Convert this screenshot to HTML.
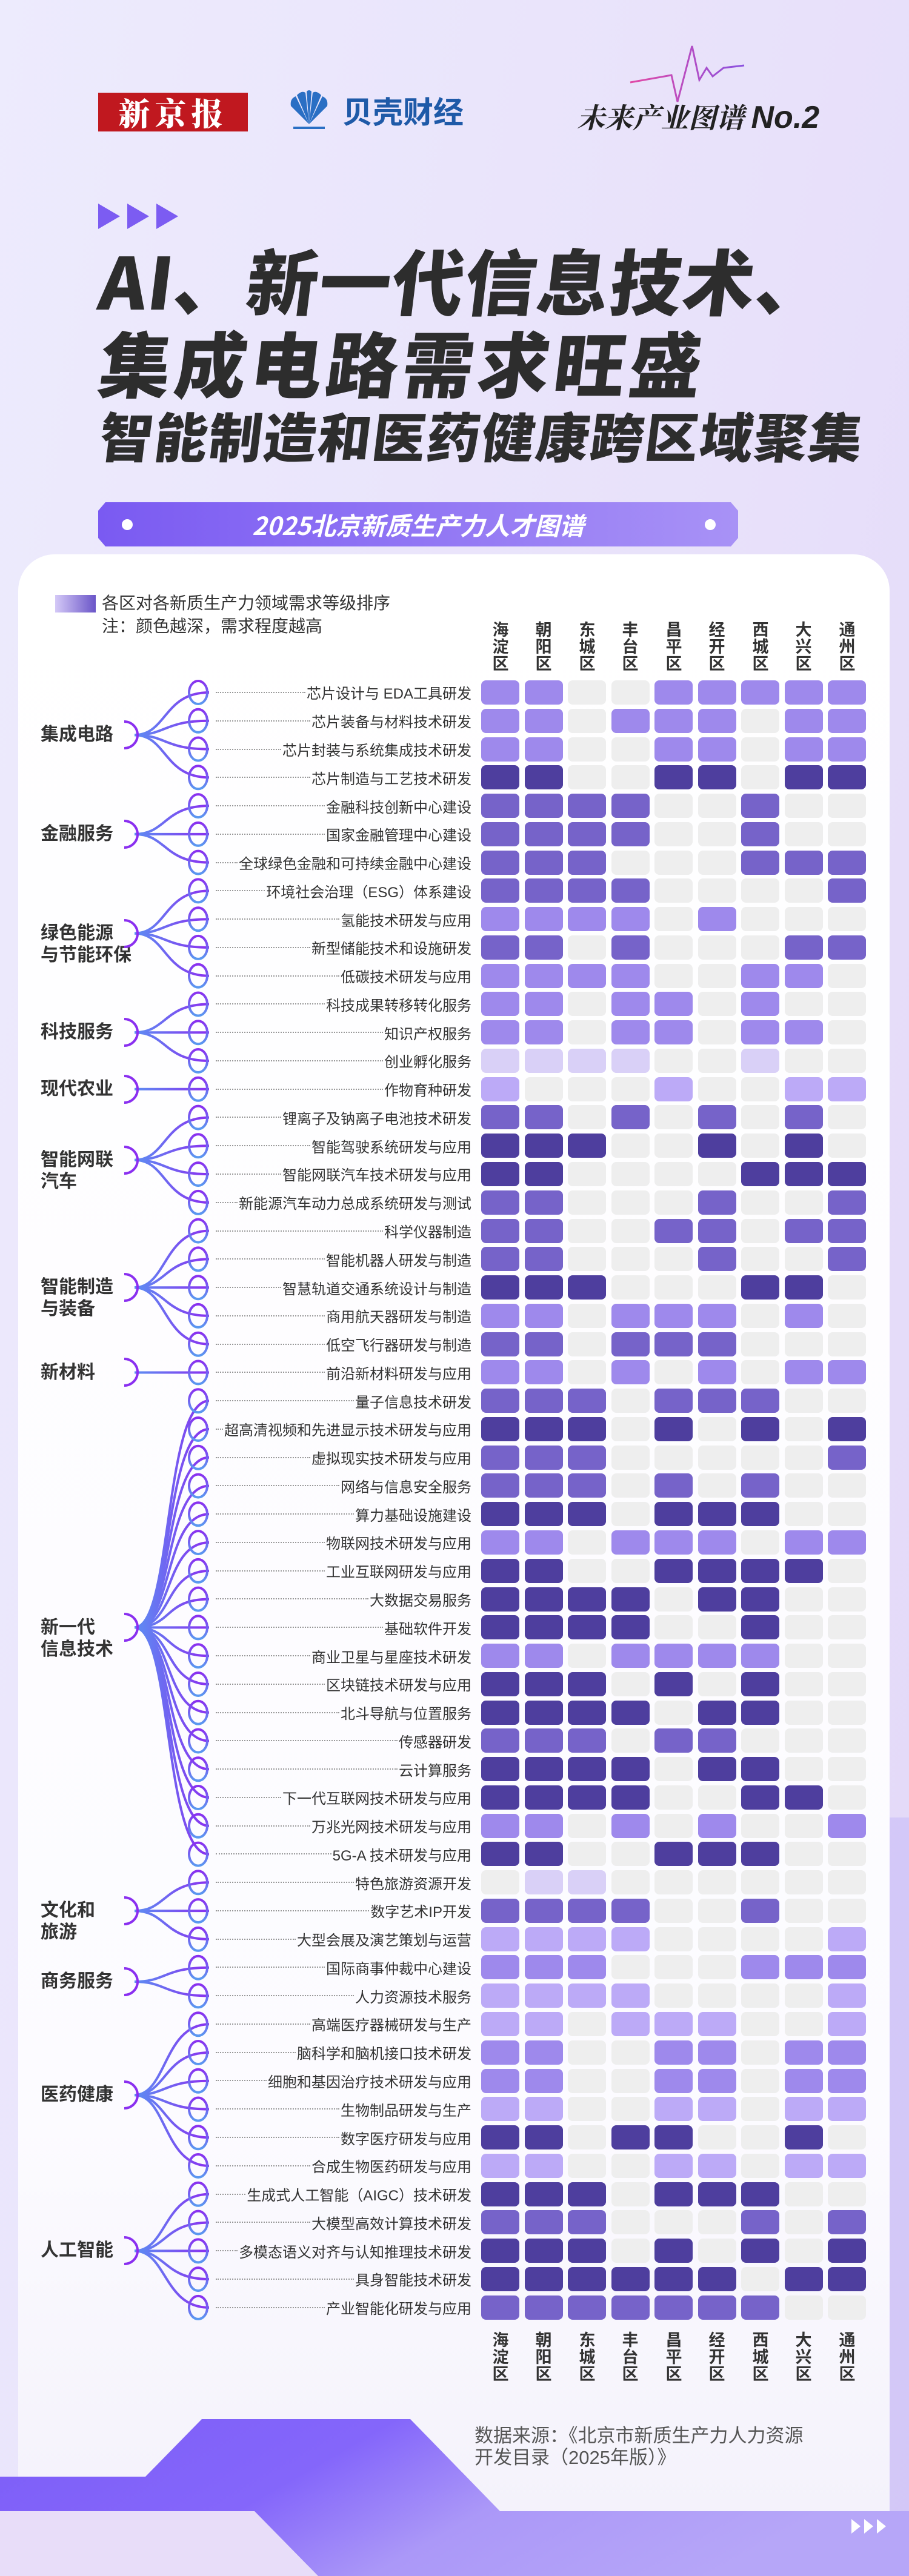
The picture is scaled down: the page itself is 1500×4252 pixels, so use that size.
<!DOCTYPE html>
<html><head><meta charset="utf-8">
<style>
*{margin:0;padding:0;box-sizing:border-box}
body{width:1500px;height:4252px;position:relative;overflow:hidden;font-family:"Liberation Sans","Noto Sans CJK SC",sans-serif;background:linear-gradient(100deg,#edebfd 0%,#e8e1fa 60%,#e3d8f8 100%)}
.a{position:absolute}
.card{left:30px;top:915px;width:1438px;height:3240px;background:linear-gradient(180deg,#ffffff 0%,#fcfbff 80%,#f4f2fb 100%);border-radius:60px 60px 0 0}
.t{color:#2d2d2d;font-family:"Noto Sans CJK SC",sans-serif;font-weight:900;white-space:nowrap;transform:skewX(-7deg);transform-origin:0 100%}
.grid{left:794px;top:1123px;display:grid;grid-template-columns:repeat(9,63px);column-gap:8.5px;grid-auto-rows:40px;row-gap:6.77px}
.grid i{display:block;border-radius:8px}
.z{background:#eeeeee}.A{background:#d9d0f7}.b{background:#bcaaf7}.c{background:#9e89ec}.d{background:#7663c9}.e{background:#4e3e9e}
.labs{left:356px;top:1119.6px;width:422px}
.labs div{height:46.77px;display:flex;align-items:center;font-size:24px;color:#333;white-space:nowrap;font-family:"Liberation Sans","Noto Sans CJK SC",sans-serif}
.labs div b{flex:1;height:0;border-top:2px dotted #999;margin-right:2px}
.cat{left:67px;font-size:30px;font-weight:bold;color:#333;line-height:36px;white-space:nowrap}
.dist{font-size:27px;font-weight:bold;color:#333;line-height:28px;width:30px;text-align:center}
</style></head><body>

<!-- header -->
<div class="a" style="left:162px;top:153px;width:247px;height:64px;background:#c0181f;color:#fff;font-family:'Noto Serif CJK SC',serif;font-weight:900;font-size:52px;line-height:64px;text-align:center;letter-spacing:8px">新京报</div>
<svg class="a" style="left:470px;top:145px" width="80" height="75" viewBox="0 0 80 75">
<g fill="#2a6fc4"><path d="M40 60 L10 30 Q8 18 18 14 Z"/><path d="M40 60 L20 12 Q28 4 34 8 Z"/><path d="M40 60 L36 6 Q40 2 44 6 Z"/><path d="M40 60 L46 8 Q52 4 60 12 Z"/><path d="M40 60 L62 14 Q72 18 70 30 Z"/></g>
<rect x="14" y="64" width="52" height="4" fill="#2a6fc4"/></svg>
<div class="a" style="left:565px;top:152px;font-size:50px;font-weight:bold;color:#1f5aa8;font-family:'Noto Sans CJK SC',sans-serif;line-height:60px">贝壳财经</div>
<svg class="a" style="left:0;top:0" width="1500" height="260">
<defs><linearGradient id="hb" x1="0" x2="1"><stop offset="0" stop-color="#e24aa6"/><stop offset="1" stop-color="#8a52e0"/></linearGradient></defs>
<polyline points="1040,136 1108,124 1118,168 1142,76 1154,132 1166,112 1176,126 1194,112 1228,108" fill="none" stroke="url(#hb)" stroke-width="3"/></svg>
<div class="a" style="left:952px;top:160px;font-size:46px;font-style:italic;color:#222;font-family:'Noto Serif CJK SC',serif;font-weight:bold;line-height:64px">未来产业图谱 <span style="font-family:'Liberation Sans',sans-serif;font-weight:bold;font-size:52px">No.2</span></div>

<svg class="a" style="left:162px;top:336px" width="132" height="42"><g fill="#7c5cf2"><polygon points="0,0 36,21 0,42"/><polygon points="48,0 84,21 48,42"/><polygon points="96,0 132,21 96,42"/></g></svg>

<div class="a t" style="left:158px;top:400px;font-size:118px;line-height:120px;letter-spacing:2px">AI、新一代信息技术、</div>
<div class="a t" style="left:158px;top:536px;font-size:118px;line-height:120px;letter-spacing:7px">集成电路需求旺盛</div>
<div class="a t" style="left:160px;top:673px;font-size:88px;line-height:90px;letter-spacing:2px">智能制造和医药健康跨区域聚集</div>

<svg class="a" style="left:162px;top:829px" width="1056" height="73">
<defs><linearGradient id="bn" x1="0" x2="1"><stop offset="0" stop-color="#7a5af2"/><stop offset="1" stop-color="#a892f6"/></linearGradient></defs>
<polygon points="12,0 1044,0 1056,14 1056,59 1044,73 12,73 0,59 0,14" fill="url(#bn)"/>
<circle cx="48" cy="37" r="9" fill="#fff"/><circle cx="1010" cy="37" r="9" fill="#fff"/></svg>
<div class="a" style="left:162px;top:838px;width:1056px;text-align:center;color:#fff;font-size:41px;font-weight:bold;font-style:italic;line-height:54px;font-family:'Noto Sans CJK SC',sans-serif">2025北京新质生产力人才图谱</div>

<div class="a card"></div>

<!-- legend -->
<div class="a" style="left:91px;top:982px;width:67px;height:29px;background:linear-gradient(90deg,#d4c9f7,#6a55c8)"></div>
<div class="a" style="left:168px;top:978px;font-size:28px;color:#333;line-height:36px">各区对各新质生产力领域需求等级排序</div>
<div class="a" style="left:168px;top:1016px;font-size:28px;color:#333;line-height:36px">注：颜色越深，需求程度越高</div>

<!-- district labels top -->
<div class="a dist" style="left:811px;top:1026px">海<br>淀<br>区</div>
<div class="a dist" style="left:882px;top:1026px">朝<br>阳<br>区</div>
<div class="a dist" style="left:954px;top:1026px">东<br>城<br>区</div>
<div class="a dist" style="left:1025px;top:1026px">丰<br>台<br>区</div>
<div class="a dist" style="left:1097px;top:1026px">昌<br>平<br>区</div>
<div class="a dist" style="left:1168px;top:1026px">经<br>开<br>区</div>
<div class="a dist" style="left:1240px;top:1026px">西<br>城<br>区</div>
<div class="a dist" style="left:1311px;top:1026px">大<br>兴<br>区</div>
<div class="a dist" style="left:1383px;top:1026px">通<br>州<br>区</div>
<!-- bottom -->
<div class="a dist" style="left:811px;top:3849px">海<br>淀<br>区</div>
<div class="a dist" style="left:882px;top:3849px">朝<br>阳<br>区</div>
<div class="a dist" style="left:954px;top:3849px">东<br>城<br>区</div>
<div class="a dist" style="left:1025px;top:3849px">丰<br>台<br>区</div>
<div class="a dist" style="left:1097px;top:3849px">昌<br>平<br>区</div>
<div class="a dist" style="left:1168px;top:3849px">经<br>开<br>区</div>
<div class="a dist" style="left:1240px;top:3849px">西<br>城<br>区</div>
<div class="a dist" style="left:1311px;top:3849px">大<br>兴<br>区</div>
<div class="a dist" style="left:1383px;top:3849px">通<br>州<br>区</div>

<!-- categories -->
<div class="a cat" style="top:1195px">集成电路</div>
<div class="a cat" style="top:1359px">金融服务</div>
<div class="a cat" style="top:1523px">绿色能源<br>与节能环保</div>
<div class="a cat" style="top:1686px">科技服务</div>
<div class="a cat" style="top:1780px">现代农业</div>
<div class="a cat" style="top:1897px">智能网联<br>汽车</div>
<div class="a cat" style="top:2107px">智能制造<br>与装备</div>
<div class="a cat" style="top:2248px">新材料</div>
<div class="a cat" style="top:2669px">新一代<br>信息技术</div>
<div class="a cat" style="top:3136px">文化和<br>旅游</div>
<div class="a cat" style="top:3253px">商务服务</div>
<div class="a cat" style="top:3440px">医药健康</div>
<div class="a cat" style="top:3697px">人工智能</div>

<!-- tree -->
<svg class="a" style="left:0;top:0" width="1500" height="4252">
<defs>
<linearGradient id="cg" gradientUnits="userSpaceOnUse" x1="222" y1="0" x2="345" y2="0"><stop offset="0" stop-color="#5c8ef2"/><stop offset="1" stop-color="#8a2ff0"/></linearGradient>
<linearGradient id="eg" x1="0" y1="0" x2="0" y2="1"><stop offset="0" stop-color="#8a2ff0"/><stop offset="1" stop-color="#5a9af0"/></linearGradient>
</defs>
<g fill="none" stroke="url(#cg)" stroke-width="4">
<path d="M222 1213.2C275 1213.2 270 1143 345 1143"/><path d="M222 1213.2C275 1213.2 270 1189.8 345 1189.8"/><path d="M222 1213.2C275 1213.2 270 1236.5 345 1236.5"/><path d="M222 1213.2C275 1213.2 270 1283.3 345 1283.3"/>
<path d="M222 1376.9C275 1376.9 270 1330.1 345 1330.1"/><path d="M222 1376.9L345 1376.9"/><path d="M222 1376.9C275 1376.9 270 1423.6 345 1423.6"/>
<path d="M222 1540.6C275 1540.6 270 1470.4 345 1470.4"/><path d="M222 1540.6C275 1540.6 270 1517.2 345 1517.2"/><path d="M222 1540.6C275 1540.6 270 1563.9 345 1563.9"/><path d="M222 1540.6C275 1540.6 270 1610.7 345 1610.7"/>
<path d="M222 1704.2C275 1704.2 270 1657.5 345 1657.5"/><path d="M222 1704.2L345 1704.2"/><path d="M222 1704.2C275 1704.2 270 1751 345 1751"/>
<path d="M222 1797.8L345 1797.8"/>
<path d="M222 1914.7C275 1914.7 270 1844.6 345 1844.6"/><path d="M222 1914.7C275 1914.7 270 1891.3 345 1891.3"/><path d="M222 1914.7C275 1914.7 270 1938.1 345 1938.1"/><path d="M222 1914.7C275 1914.7 270 1984.9 345 1984.9"/>
<path d="M222 2125.2C275 2125.2 270 2031.6 345 2031.6"/><path d="M222 2125.2C275 2125.2 270 2078.4 345 2078.4"/><path d="M222 2125.2L345 2125.2"/><path d="M222 2125.2C275 2125.2 270 2171.9 345 2171.9"/><path d="M222 2125.2C275 2125.2 270 2218.7 345 2218.7"/>
<path d="M222 2265.5L345 2265.5"/>
<path d="M222 2686.4C285 2686.4 270 2312.3 345 2312.3"/><path d="M222 2686.4C285 2686.4 270 2359 345 2359"/><path d="M222 2686.4C285 2686.4 270 2405.8 345 2405.8"/><path d="M222 2686.4C285 2686.4 270 2452.6 345 2452.6"/><path d="M222 2686.4C285 2686.4 270 2499.3 345 2499.3"/><path d="M222 2686.4C285 2686.4 270 2546.1 345 2546.1"/><path d="M222 2686.4C285 2686.4 270 2592.9 345 2592.9"/><path d="M222 2686.4C285 2686.4 270 2639.6 345 2639.6"/><path d="M222 2686.4L345 2686.4"/><path d="M222 2686.4C285 2686.4 270 2733.2 345 2733.2"/><path d="M222 2686.4C285 2686.4 270 2780 345 2780"/><path d="M222 2686.4C285 2686.4 270 2826.7 345 2826.7"/><path d="M222 2686.4C285 2686.4 270 2873.5 345 2873.5"/><path d="M222 2686.4C285 2686.4 270 2920.3 345 2920.3"/><path d="M222 2686.4C285 2686.4 270 2967 345 2967"/><path d="M222 2686.4C285 2686.4 270 3013.8 345 3013.8"/><path d="M222 2686.4C285 2686.4 270 3060.6 345 3060.6"/>
<path d="M222 3154.1C275 3154.1 270 3107.3 345 3107.3"/><path d="M222 3154.1L345 3154.1"/><path d="M222 3154.1C275 3154.1 270 3200.9 345 3200.9"/>
<path d="M222 3271C275 3271 270 3247.7 345 3247.7"/><path d="M222 3271C275 3271 270 3294.4 345 3294.4"/>
<path d="M222 3458.1C275 3458.1 270 3341.2 345 3341.2"/><path d="M222 3458.1C275 3458.1 270 3388 345 3388"/><path d="M222 3458.1C275 3458.1 270 3434.7 345 3434.7"/><path d="M222 3458.1C275 3458.1 270 3481.5 345 3481.5"/><path d="M222 3458.1C275 3458.1 270 3528.3 345 3528.3"/><path d="M222 3458.1C275 3458.1 270 3575 345 3575"/>
<path d="M222 3715.4C275 3715.4 270 3621.8 345 3621.8"/><path d="M222 3715.4C275 3715.4 270 3668.6 345 3668.6"/><path d="M222 3715.4L345 3715.4"/><path d="M222 3715.4C275 3715.4 270 3762.1 345 3762.1"/><path d="M222 3715.4C275 3715.4 270 3808.9 345 3808.9"/>
</g>
<g fill="none" stroke="#8a2ff0" stroke-width="4">
<path d="M205 1191a22 22 0 0 1 0 44"/><path d="M205 1355a22 22 0 0 1 0 44"/><path d="M205 1519a22 22 0 0 1 0 44"/><path d="M205 1682a22 22 0 0 1 0 44"/><path d="M205 1776a22 22 0 0 1 0 44"/><path d="M205 1893a22 22 0 0 1 0 44"/><path d="M205 2103a22 22 0 0 1 0 44"/><path d="M205 2243a22 22 0 0 1 0 44"/><path d="M205 2664a22 22 0 0 1 0 44"/><path d="M205 3132a22 22 0 0 1 0 44"/><path d="M205 3249a22 22 0 0 1 0 44"/><path d="M205 3436a22 22 0 0 1 0 44"/><path d="M205 3693a22 22 0 0 1 0 44"/>
</g>
<g fill="none" stroke="url(#eg)" stroke-width="4">
<ellipse cx="327" cy="1143" rx="15" ry="19"/><ellipse cx="327" cy="1189.8" rx="15" ry="19"/><ellipse cx="327" cy="1236.5" rx="15" ry="19"/><ellipse cx="327" cy="1283.3" rx="15" ry="19"/><ellipse cx="327" cy="1330.1" rx="15" ry="19"/><ellipse cx="327" cy="1376.9" rx="15" ry="19"/><ellipse cx="327" cy="1423.6" rx="15" ry="19"/><ellipse cx="327" cy="1470.4" rx="15" ry="19"/><ellipse cx="327" cy="1517.2" rx="15" ry="19"/><ellipse cx="327" cy="1563.9" rx="15" ry="19"/><ellipse cx="327" cy="1610.7" rx="15" ry="19"/><ellipse cx="327" cy="1657.5" rx="15" ry="19"/><ellipse cx="327" cy="1704.2" rx="15" ry="19"/><ellipse cx="327" cy="1751" rx="15" ry="19"/><ellipse cx="327" cy="1797.8" rx="15" ry="19"/><ellipse cx="327" cy="1844.6" rx="15" ry="19"/><ellipse cx="327" cy="1891.3" rx="15" ry="19"/><ellipse cx="327" cy="1938.1" rx="15" ry="19"/><ellipse cx="327" cy="1984.9" rx="15" ry="19"/><ellipse cx="327" cy="2031.6" rx="15" ry="19"/><ellipse cx="327" cy="2078.4" rx="15" ry="19"/><ellipse cx="327" cy="2125.2" rx="15" ry="19"/><ellipse cx="327" cy="2171.9" rx="15" ry="19"/><ellipse cx="327" cy="2218.7" rx="15" ry="19"/><ellipse cx="327" cy="2265.5" rx="15" ry="19"/><ellipse cx="327" cy="2312.3" rx="15" ry="19"/><ellipse cx="327" cy="2359" rx="15" ry="19"/><ellipse cx="327" cy="2405.8" rx="15" ry="19"/><ellipse cx="327" cy="2452.6" rx="15" ry="19"/><ellipse cx="327" cy="2499.3" rx="15" ry="19"/><ellipse cx="327" cy="2546.1" rx="15" ry="19"/><ellipse cx="327" cy="2592.9" rx="15" ry="19"/><ellipse cx="327" cy="2639.6" rx="15" ry="19"/><ellipse cx="327" cy="2686.4" rx="15" ry="19"/><ellipse cx="327" cy="2733.2" rx="15" ry="19"/><ellipse cx="327" cy="2780" rx="15" ry="19"/><ellipse cx="327" cy="2826.7" rx="15" ry="19"/><ellipse cx="327" cy="2873.5" rx="15" ry="19"/><ellipse cx="327" cy="2920.3" rx="15" ry="19"/><ellipse cx="327" cy="2967" rx="15" ry="19"/><ellipse cx="327" cy="3013.8" rx="15" ry="19"/><ellipse cx="327" cy="3060.6" rx="15" ry="19"/><ellipse cx="327" cy="3107.3" rx="15" ry="19"/><ellipse cx="327" cy="3154.1" rx="15" ry="19"/><ellipse cx="327" cy="3200.9" rx="15" ry="19"/><ellipse cx="327" cy="3247.7" rx="15" ry="19"/><ellipse cx="327" cy="3294.4" rx="15" ry="19"/><ellipse cx="327" cy="3341.2" rx="15" ry="19"/><ellipse cx="327" cy="3388" rx="15" ry="19"/><ellipse cx="327" cy="3434.7" rx="15" ry="19"/><ellipse cx="327" cy="3481.5" rx="15" ry="19"/><ellipse cx="327" cy="3528.3" rx="15" ry="19"/><ellipse cx="327" cy="3575" rx="15" ry="19"/><ellipse cx="327" cy="3621.8" rx="15" ry="19"/><ellipse cx="327" cy="3668.6" rx="15" ry="19"/><ellipse cx="327" cy="3715.4" rx="15" ry="19"/><ellipse cx="327" cy="3762.1" rx="15" ry="19"/><ellipse cx="327" cy="3808.9" rx="15" ry="19"/>
</g>
</svg>

<div class="a labs">
<div><b></b>芯片设计与 EDA工具研发</div>
<div><b></b>芯片装备与材料技术研发</div>
<div><b></b>芯片封装与系统集成技术研发</div>
<div><b></b>芯片制造与工艺技术研发</div>
<div><b></b>金融科技创新中心建设</div>
<div><b></b>国家金融管理中心建设</div>
<div><b></b>全球绿色金融和可持续金融中心建设</div>
<div><b></b>环境社会治理（ESG）体系建设</div>
<div><b></b>氢能技术研发与应用</div>
<div><b></b>新型储能技术和设施研发</div>
<div><b></b>低碳技术研发与应用</div>
<div><b></b>科技成果转移转化服务</div>
<div><b></b>知识产权服务</div>
<div><b></b>创业孵化服务</div>
<div><b></b>作物育种研发</div>
<div><b></b>锂离子及钠离子电池技术研发</div>
<div><b></b>智能驾驶系统研发与应用</div>
<div><b></b>智能网联汽车技术研发与应用</div>
<div><b></b>新能源汽车动力总成系统研发与测试</div>
<div><b></b>科学仪器制造</div>
<div><b></b>智能机器人研发与制造</div>
<div><b></b>智慧轨道交通系统设计与制造</div>
<div><b></b>商用航天器研发与制造</div>
<div><b></b>低空飞行器研发与制造</div>
<div><b></b>前沿新材料研发与应用</div>
<div><b></b>量子信息技术研发</div>
<div><b></b>超高清视频和先进显示技术研发与应用</div>
<div><b></b>虚拟现实技术研发与应用</div>
<div><b></b>网络与信息安全服务</div>
<div><b></b>算力基础设施建设</div>
<div><b></b>物联网技术研发与应用</div>
<div><b></b>工业互联网研发与应用</div>
<div><b></b>大数据交易服务</div>
<div><b></b>基础软件开发</div>
<div><b></b>商业卫星与星座技术研发</div>
<div><b></b>区块链技术研发与应用</div>
<div><b></b>北斗导航与位置服务</div>
<div><b></b>传感器研发</div>
<div><b></b>云计算服务</div>
<div><b></b>下一代互联网技术研发与应用</div>
<div><b></b>万兆光网技术研发与应用</div>
<div><b></b>5G-A 技术研发与应用</div>
<div><b></b>特色旅游资源开发</div>
<div><b></b>数字艺术IP开发</div>
<div><b></b>大型会展及演艺策划与运营</div>
<div><b></b>国际商事仲裁中心建设</div>
<div><b></b>人力资源技术服务</div>
<div><b></b>高端医疗器械研发与生产</div>
<div><b></b>脑科学和脑机接口技术研发</div>
<div><b></b>细胞和基因治疗技术研发与应用</div>
<div><b></b>生物制品研发与生产</div>
<div><b></b>数字医疗研发与应用</div>
<div><b></b>合成生物医药研发与应用</div>
<div><b></b>生成式人工智能（AIGC）技术研发</div>
<div><b></b>大模型高效计算技术研发</div>
<div><b></b>多模态语义对齐与认知推理技术研发</div>
<div><b></b>具身智能技术研发</div>
<div><b></b>产业智能化研发与应用</div>
</div>

<div class="a grid">
<i class=c></i><i class=c></i><i class=z></i><i class=z></i><i class=c></i><i class=c></i><i class=c></i><i class=c></i><i class=c></i>
<i class=c></i><i class=c></i><i class=z></i><i class=c></i><i class=c></i><i class=c></i><i class=z></i><i class=c></i><i class=c></i>
<i class=c></i><i class=c></i><i class=z></i><i class=z></i><i class=c></i><i class=c></i><i class=z></i><i class=c></i><i class=c></i>
<i class=e></i><i class=e></i><i class=z></i><i class=z></i><i class=e></i><i class=e></i><i class=z></i><i class=e></i><i class=e></i>
<i class=d></i><i class=d></i><i class=d></i><i class=d></i><i class=z></i><i class=z></i><i class=d></i><i class=z></i><i class=z></i>
<i class=d></i><i class=d></i><i class=d></i><i class=d></i><i class=z></i><i class=z></i><i class=d></i><i class=z></i><i class=z></i>
<i class=d></i><i class=d></i><i class=d></i><i class=z></i><i class=z></i><i class=z></i><i class=d></i><i class=d></i><i class=d></i>
<i class=d></i><i class=d></i><i class=d></i><i class=d></i><i class=z></i><i class=z></i><i class=z></i><i class=z></i><i class=d></i>
<i class=c></i><i class=c></i><i class=c></i><i class=c></i><i class=z></i><i class=c></i><i class=z></i><i class=z></i><i class=z></i>
<i class=d></i><i class=d></i><i class=z></i><i class=d></i><i class=z></i><i class=z></i><i class=z></i><i class=d></i><i class=d></i>
<i class=c></i><i class=c></i><i class=c></i><i class=c></i><i class=z></i><i class=z></i><i class=c></i><i class=c></i><i class=z></i>
<i class=c></i><i class=c></i><i class=z></i><i class=c></i><i class=c></i><i class=z></i><i class=c></i><i class=z></i><i class=z></i>
<i class=c></i><i class=c></i><i class=z></i><i class=c></i><i class=c></i><i class=z></i><i class=c></i><i class=c></i><i class=z></i>
<i class=A></i><i class=A></i><i class=A></i><i class=A></i><i class=z></i><i class=z></i><i class=A></i><i class=z></i><i class=z></i>
<i class=b></i><i class=z></i><i class=z></i><i class=z></i><i class=b></i><i class=z></i><i class=z></i><i class=b></i><i class=b></i>
<i class=d></i><i class=d></i><i class=z></i><i class=d></i><i class=z></i><i class=d></i><i class=z></i><i class=d></i><i class=z></i>
<i class=e></i><i class=e></i><i class=e></i><i class=z></i><i class=z></i><i class=e></i><i class=z></i><i class=e></i><i class=z></i>
<i class=e></i><i class=e></i><i class=z></i><i class=z></i><i class=z></i><i class=z></i><i class=e></i><i class=e></i><i class=e></i>
<i class=d></i><i class=d></i><i class=z></i><i class=z></i><i class=z></i><i class=d></i><i class=z></i><i class=z></i><i class=d></i>
<i class=d></i><i class=d></i><i class=z></i><i class=z></i><i class=d></i><i class=d></i><i class=z></i><i class=d></i><i class=d></i>
<i class=d></i><i class=d></i><i class=z></i><i class=z></i><i class=z></i><i class=d></i><i class=z></i><i class=z></i><i class=d></i>
<i class=e></i><i class=e></i><i class=e></i><i class=z></i><i class=z></i><i class=z></i><i class=e></i><i class=e></i><i class=z></i>
<i class=c></i><i class=c></i><i class=z></i><i class=c></i><i class=c></i><i class=c></i><i class=z></i><i class=c></i><i class=z></i>
<i class=d></i><i class=d></i><i class=z></i><i class=d></i><i class=d></i><i class=d></i><i class=z></i><i class=z></i><i class=z></i>
<i class=c></i><i class=c></i><i class=z></i><i class=c></i><i class=z></i><i class=c></i><i class=z></i><i class=c></i><i class=c></i>
<i class=d></i><i class=d></i><i class=d></i><i class=z></i><i class=d></i><i class=d></i><i class=d></i><i class=z></i><i class=z></i>
<i class=e></i><i class=e></i><i class=e></i><i class=z></i><i class=e></i><i class=z></i><i class=e></i><i class=z></i><i class=e></i>
<i class=d></i><i class=d></i><i class=d></i><i class=z></i><i class=z></i><i class=z></i><i class=z></i><i class=z></i><i class=d></i>
<i class=d></i><i class=d></i><i class=d></i><i class=z></i><i class=d></i><i class=z></i><i class=d></i><i class=z></i><i class=z></i>
<i class=e></i><i class=e></i><i class=e></i><i class=z></i><i class=e></i><i class=e></i><i class=e></i><i class=z></i><i class=z></i>
<i class=c></i><i class=c></i><i class=z></i><i class=c></i><i class=c></i><i class=c></i><i class=z></i><i class=c></i><i class=c></i>
<i class=e></i><i class=e></i><i class=z></i><i class=z></i><i class=e></i><i class=e></i><i class=e></i><i class=e></i><i class=z></i>
<i class=e></i><i class=e></i><i class=e></i><i class=e></i><i class=z></i><i class=e></i><i class=e></i><i class=z></i><i class=z></i>
<i class=e></i><i class=e></i><i class=e></i><i class=e></i><i class=z></i><i class=z></i><i class=e></i><i class=z></i><i class=z></i>
<i class=c></i><i class=c></i><i class=z></i><i class=c></i><i class=c></i><i class=c></i><i class=c></i><i class=z></i><i class=z></i>
<i class=e></i><i class=e></i><i class=e></i><i class=z></i><i class=e></i><i class=z></i><i class=e></i><i class=z></i><i class=z></i>
<i class=e></i><i class=e></i><i class=e></i><i class=e></i><i class=z></i><i class=e></i><i class=e></i><i class=z></i><i class=z></i>
<i class=d></i><i class=d></i><i class=d></i><i class=z></i><i class=d></i><i class=d></i><i class=z></i><i class=z></i><i class=z></i>
<i class=e></i><i class=e></i><i class=e></i><i class=e></i><i class=z></i><i class=e></i><i class=e></i><i class=z></i><i class=z></i>
<i class=e></i><i class=e></i><i class=e></i><i class=e></i><i class=z></i><i class=z></i><i class=e></i><i class=e></i><i class=z></i>
<i class=c></i><i class=c></i><i class=z></i><i class=c></i><i class=z></i><i class=c></i><i class=z></i><i class=z></i><i class=c></i>
<i class=e></i><i class=e></i><i class=z></i><i class=z></i><i class=e></i><i class=e></i><i class=e></i><i class=z></i><i class=z></i>
<i class=z></i><i class=A></i><i class=A></i><i class=z></i><i class=z></i><i class=z></i><i class=z></i><i class=z></i><i class=z></i>
<i class=d></i><i class=d></i><i class=d></i><i class=d></i><i class=z></i><i class=z></i><i class=d></i><i class=z></i><i class=z></i>
<i class=b></i><i class=b></i><i class=b></i><i class=b></i><i class=z></i><i class=z></i><i class=z></i><i class=z></i><i class=b></i>
<i class=c></i><i class=c></i><i class=c></i><i class=z></i><i class=z></i><i class=z></i><i class=c></i><i class=c></i><i class=c></i>
<i class=b></i><i class=b></i><i class=b></i><i class=b></i><i class=z></i><i class=z></i><i class=z></i><i class=z></i><i class=b></i>
<i class=b></i><i class=b></i><i class=z></i><i class=b></i><i class=b></i><i class=b></i><i class=z></i><i class=z></i><i class=b></i>
<i class=c></i><i class=c></i><i class=z></i><i class=z></i><i class=c></i><i class=c></i><i class=z></i><i class=c></i><i class=c></i>
<i class=c></i><i class=c></i><i class=z></i><i class=z></i><i class=c></i><i class=c></i><i class=z></i><i class=c></i><i class=c></i>
<i class=b></i><i class=b></i><i class=z></i><i class=z></i><i class=b></i><i class=b></i><i class=z></i><i class=b></i><i class=b></i>
<i class=e></i><i class=e></i><i class=z></i><i class=e></i><i class=e></i><i class=z></i><i class=z></i><i class=e></i><i class=z></i>
<i class=b></i><i class=b></i><i class=z></i><i class=z></i><i class=b></i><i class=b></i><i class=z></i><i class=b></i><i class=b></i>
<i class=e></i><i class=e></i><i class=e></i><i class=z></i><i class=e></i><i class=e></i><i class=e></i><i class=z></i><i class=z></i>
<i class=d></i><i class=d></i><i class=d></i><i class=z></i><i class=z></i><i class=z></i><i class=d></i><i class=z></i><i class=d></i>
<i class=e></i><i class=e></i><i class=e></i><i class=z></i><i class=e></i><i class=z></i><i class=e></i><i class=z></i><i class=e></i>
<i class=e></i><i class=e></i><i class=e></i><i class=e></i><i class=e></i><i class=e></i><i class=z></i><i class=e></i><i class=e></i>
<i class=d></i><i class=d></i><i class=d></i><i class=d></i><i class=d></i><i class=d></i><i class=d></i><i class=z></i><i class=z></i>
</div>

<div class="a" style="left:783px;top:4003px;font-size:31px;color:#555;line-height:36px;white-space:nowrap">数据来源：《北京市新质生产力人力资源<br>开发目录（2025年版）》</div>

<svg class="a" style="left:0;top:0" width="1500" height="4252">
<defs><linearGradient id="pg" x1="0" y1="0" x2="1" y2="0.3"><stop offset="0" stop-color="#7d5ef8"/><stop offset="0.4" stop-color="#8466fa"/><stop offset="0.65" stop-color="#ab98f8"/><stop offset="1" stop-color="#b6a6f8"/></linearGradient></defs>
<polygon points="1468,3000 1500,3000 1500,4145 1468,4145" fill="#c8bcf7" opacity="0.6"/>
<polygon points="0,4145 420,4145 525,4252 0,4252" fill="#e8ddf9"/>
<polygon points="0,4088 240,4088 333,3993 677,3993 825,4145 1500,4145 1500,4252 525,4252 420,4145 0,4145" fill="url(#pg)"/>
<g fill="#fff"><polygon points="1405,4158 1420,4170 1405,4182"/><polygon points="1426,4158 1441,4170 1426,4182"/><polygon points="1447,4158 1462,4170 1447,4182"/></g>
</svg>
</body></html>
